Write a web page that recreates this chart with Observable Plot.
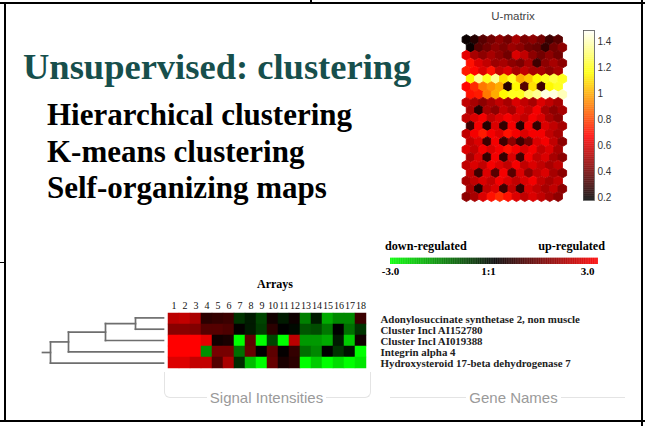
<!DOCTYPE html>
<html><head><meta charset="utf-8">
<script src="https://cdn.jsdelivr.net/npm/d3@7"></script>
<script src="https://cdn.jsdelivr.net/npm/@observablehq/plot@0.6"></script>
<style>
body{margin:0;background:#fff;}
#slide{position:relative;width:645px;height:426px;overflow:hidden;background:#fff;}
.abs{position:absolute;white-space:nowrap;line-height:1;}
.rule{position:absolute;background:#000;}
.faint{position:absolute;border-color:#e4e4e4;border-style:solid;border-width:0;}
svg{overflow:visible;}
</style></head><body>
<div id="slide"></div>
<script>
// ---------- data ----------
const slideTitle = "Unsupervised: clustering";
const bullets = ["Hierarchical clustering", "K-means clustering", "Self-organizing maps"];

const arrays = [1,2,3,4,5,6,7,8,9,10,11,12,13,14,15,16,17,18];
const genes = [
  "Adonylosuccinate synthetase 2, non muscle",
  "Cluster Incl AI152780",
  "Cluster Incl AI019388",
  "Integrin alpha 4",
  "Hydroxysteroid 17-beta dehydrogenase 7"
];
const expr0 = [2.2,2.3,2.0,0.5,0.6,0.7,-0.6,-0.3,-0.8,0.2,-0.3,0.15,-1.5,-0.3,-2.0,-1.6,-1.6,0.7];
const expr1 = [1.6,1.6,1.5,1.0,1.0,0.9,0.05,-0.3,-0.7,0.5,0.0,-0.1,-1.0,-0.9,-1.4,0.0,-1.3,-0.6];
const expr2 = [3.0,3.0,3.0,2.7,0.2,0.3,-3.0,1.1,-3.0,-0.8,-3.0,2.2,-1.8,-1.8,-2.0,-0.3,-2.4,0.2];
const expr3 = [3.0,3.0,3.0,-1.7,1.4,1.4,-1.3,1.2,0.0,1.1,0.05,0.6,-1.3,-1.6,0.0,-0.6,-0.2,-3.0];
const expr4 = [2.6,2.6,2.3,2.3,1.0,2.0,-0.5,-2.2,-3.0,1.2,0.3,0.5,-3.0,-2.4,-3.0,-2.6,-3.0,-2.7];
const expression = [expr0, expr1, expr2, expr3, expr4];

// dendrogram merges: [childA, childB, height]; leaves 0..4, merged nodes 5..8
const merges = [[0,1,2.8],[5,2,5.8],[6,3,9.5],[7,4,11.3]];
const rootHeight = 12.1;

const heatTicks = [-3, 0, 3];
const heatTickLabels = ["-3.0", "1:1", "3.0"];

// U-matrix (21 rows x 12 hexagons; odd rows shifted half a cell)
const umatrix = [
  [0.20,0.25,0.35,0.40,0.45,0.40,0.50,0.42,0.45,0.40,0.30,0.35],
  [0.20,0.35,0.40,0.45,0.42,0.48,0.45,0.40,0.38,0.28,0.40,0.45],
  [0.62,0.50,0.45,0.50,0.45,0.40,0.60,0.55,0.45,0.40,0.45,0.40],
  [0.70,0.60,0.55,0.48,0.50,0.45,0.42,0.50,0.30,0.45,0.50,0.45],
  [0.72,0.68,0.60,0.70,0.55,0.60,0.50,0.55,0.50,0.50,0.45,0.50],
  [1.15,1.35,1.20,1.35,1.10,1.20,1.00,1.05,1.15,1.20,1.25,1.20],
  [0.68,0.75,0.90,0.95,1.00,0.25,1.15,0.35,1.10,0.30,1.15,1.20],
  [0.70,0.72,0.90,1.00,1.15,1.20,1.20,1.30,1.35,1.45,1.45,1.40],
  [0.55,0.50,0.45,0.50,0.55,0.50,0.60,0.55,0.50,0.60,0.55,0.50],
  [0.50,0.25,0.50,0.45,0.55,0.50,0.60,0.55,0.65,0.50,0.45,0.50],
  [0.55,0.60,0.65,0.55,0.60,0.65,0.60,0.55,0.65,0.60,0.50,0.45],
  [0.30,0.65,0.25,0.60,0.28,0.65,0.25,0.65,0.28,0.60,0.55,0.50],
  [0.55,0.65,0.72,0.65,0.60,0.70,0.65,0.60,0.65,0.65,0.55,0.50],
  [0.55,0.60,0.30,0.65,0.30,0.45,0.30,0.40,0.60,0.65,0.55,0.45],
  [0.60,0.55,0.65,0.60,0.65,0.70,0.65,0.60,0.65,0.55,0.60,0.50],
  [0.50,0.60,0.28,0.65,0.28,0.60,0.30,0.65,0.55,0.60,0.50,0.45],
  [0.55,0.60,0.55,0.65,0.60,0.55,0.65,0.55,0.60,0.55,0.50,0.55],
  [0.55,0.30,0.60,0.35,0.65,0.35,0.60,0.45,0.55,0.60,0.50,0.45],
  [0.50,0.55,0.60,0.55,0.65,0.60,0.55,0.60,0.65,0.55,0.50,0.55],
  [0.50,0.25,0.55,0.60,0.30,0.55,0.28,0.60,0.55,0.50,0.55,0.45],
  [0.45,0.50,0.60,0.70,0.75,0.70,0.60,0.55,0.60,0.55,0.50,0.45]
];
const umatrixTicks = [0.2, 0.4, 0.6, 0.8, 1, 1.2, 1.4];
const umatrixDomain = [0.18, 1.49];

// ---------- helpers ----------
const slide = document.getElementById("slide");
const SERIF = '"Liberation Serif","Times New Roman",serif';
const SANS = '"Liberation Sans",Arial,sans-serif';
function rule(l, t, w, h) {
  const d = document.createElement("div"); d.className = "rule";
  Object.assign(d.style, {left: l + "px", top: t + "px", width: w + "px", height: h + "px"});
  slide.appendChild(d);
}
function label(text, x, baseline, size, o = {}) {
  const d = document.createElement("div"); d.className = "abs"; d.textContent = text;
  const asc = o.font === SANS ? 0.86 : 0.8375;
  Object.assign(d.style, {
    fontFamily: o.font || SERIF, fontSize: size + "px", fontWeight: o.weight || "bold",
    color: o.color || "#000", top: (baseline - asc * size) + "px",
    background: o.bg || "transparent", padding: o.pad || "0"
  });
  slide.appendChild(d);
  const w = d.getBoundingClientRect().width;
  if (o.anchor === "middle") d.style.left = (x - w / 2) + "px";
  else if (o.anchor === "end") d.style.left = (x - w) + "px";
  else d.style.left = x + "px";
  return d;
}
function place(svg, l, t) {
  const w = document.createElement("div"); w.className = "abs";
  w.style.left = l + "px"; w.style.top = t + "px";
  w.appendChild(svg); slide.appendChild(w);
}

// ---------- frame ----------
rule(0, 2, 645, 2);
rule(4, 2, 2, 419);
rule(0, 419.5, 645, 2.5);
rule(641, 0, 2, 426);
rule(0, 261.5, 5, 1.5);
rule(310, 0, 1.5, 3);

// ---------- slide text ----------
label(slideTitle, 23, 79.5, 36.5, {color: "#174f4c"});
label(bullets[0], 47, 125, 31);
label(bullets[1], 47, 162, 31);
label(bullets[2], 47, 198, 31);

// ---------- U-matrix ----------
const hot = {type: "linear", domain: [0.18, 0.67, 1.16, 1.49], range: ["#000000", "#ff0000", "#ffff00", "#ffffff"]};
const hexes = [];
umatrix.forEach((row, r) => row.forEach((v, c) => hexes.push({col: c + (r % 2 ? 0.5 : 0), row: r, value: v})));
place(Plot.plot({
  width: 120, height: 185, marginLeft: 10.9, marginRight: 13.2, marginTop: 14.1, marginBottom: 13.9,
  x: {domain: [0, 11.5], axis: null},
  y: {domain: [0, 20], reverse: true, axis: null},
  color: hot,
  marks: [Plot.dot(hexes, {x: "col", y: "row", symbol: "hexagon", r: 4.3, fill: "value", stroke: "value", strokeWidth: 0.9})]
}), 455, 25);
label("U-matrix", 513, 21, 11.5, {font: SANS, weight: "normal", color: "#444", anchor: "middle"});

const ramp = d3.range(umatrixDomain[0], umatrixDomain[1], 0.005);
place(Plot.plot({
  width: 65, height: 190, marginLeft: 8, marginRight: 46, marginTop: 10, marginBottom: 10,
  x: {domain: [0, 1], axis: null},
  y: {domain: umatrixDomain, axis: null},
  color: hot,
  marks: [
    Plot.rect(ramp, {x1: 0, x2: 1, y1: d => d, y2: d => Math.min(d + 0.006, umatrixDomain[1]), fill: d => d}),
    Plot.frame({stroke: "#555", strokeWidth: 0.8}),
    Plot.axisY(umatrixTicks, {anchor: "right", tickSize: 0, tickPadding: 3, tickFormat: d => String(d),
      fontSize: 10, fontFamily: SANS, fill: "#333", label: null})
  ]
}), 575, 20);

// ---------- regulation legend ----------
const heatColor = {type: "linear", domain: [-3, 0, 3], range: ["#00ff00", "#000000", "#ff0000"]};
const regRamp = d3.range(-3, 3, 0.02);
const tickRows = heatTicks.map((v, i) => ({v, t: heatTickLabels[i]}));
place(Plot.plot({
  width: 250, height: 45, marginLeft: 15, marginRight: 27, marginTop: 22.7, marginBottom: 16,
  x: {domain: [-3, 3], axis: null},
  color: heatColor,
  marks: [
    Plot.rect(regRamp, {x1: d => d, x2: d => Math.min(d + 0.025, 3), fill: d => d}),
    Plot.text(tickRows.slice(0, 1), {x: "v", text: "t", frameAnchor: "bottom", lineAnchor: "top", dy: 3, fontFamily: SERIF, fontWeight: "bold", fontSize: 11}),
    Plot.text(tickRows.slice(1, 2), {x: "v", text: "t", frameAnchor: "bottom", lineAnchor: "top", dy: 3, dx: -6, fontFamily: SERIF, fontWeight: "bold", fontSize: 11}),
    Plot.text(tickRows.slice(2), {x: "v", text: "t", frameAnchor: "bottom", lineAnchor: "top", dy: 3, dx: -4, textAnchor: "end", fontFamily: SERIF, fontWeight: "bold", fontSize: 11})
  ]
}), 375, 235);
label("down-regulated", 385, 250.5, 12.2);
label("up-regulated", 605, 250.5, 12.2, {anchor: "end"});

// ---------- heatmap ----------
const cells = [];
genes.forEach((g, i) => arrays.forEach((a, j) => cells.push({gene: g, array: a, value: expression[i][j]})));
place(Plot.plot({
  width: 490, height: 100, marginLeft: 23.3, marginRight: 260, marginTop: 36.7, marginBottom: 6.7,
  x: {type: "band", domain: arrays, padding: 0, axis: null},
  y: {type: "band", domain: genes, padding: 0, axis: null},
  color: heatColor,
  marks: [
    Plot.cell(cells, {x: "array", y: "gene", fill: "value", stroke: "value", strokeWidth: 0.5}),
    Plot.axisX({anchor: "top", tickSize: 0, tickPadding: 3, fontSize: 10, fontFamily: SERIF, fill: "#111", label: null}),
    Plot.axisY({anchor: "right", tickSize: 0, tickPadding: 10, fontSize: 10.9, fontFamily: SERIF, fontWeight: "bold", fill: "#222", label: null})
  ]
}), 140, 275);
label("Arrays", 275, 288.5, 12, {anchor: "middle"});

// ---------- dendrogram ----------
const nodes = [0, 1, 2, 3, 4].map(i => ({y: i, h: 0}));
const segs = [];
merges.forEach(([a, b, h]) => {
  const A = nodes[a], B = nodes[b];
  segs.push({x1: A.h, y1: A.y, x2: h, y2: A.y});
  segs.push({x1: B.h, y1: B.y, x2: h, y2: B.y});
  segs.push({x1: h, y1: A.y, x2: h, y2: B.y});
  nodes.push({y: (A.y + B.y) / 2, h});
});
const root = nodes[nodes.length - 1];
segs.push({x1: root.h, y1: root.y, x2: rootHeight, y2: root.y});
place(Plot.plot({
  width: 140, height: 75, marginLeft: 12, marginRight: 7, marginTop: 17.4, marginBottom: 12.4,
  x: {domain: [rootHeight, 0], axis: null},
  y: {domain: [0, 4], reverse: true, axis: null},
  marks: [Plot.link(segs, {x1: "x1", y1: "y1", x2: "x2", y2: "y2", stroke: "#6e6e6e", strokeWidth: 1.7, strokeLinecap: "square"})]
}), 30, 300);

// ---------- panel captions ----------
function faint(l, t, w, h, sides, radius) {
  const d = document.createElement("div"); d.className = "faint";
  Object.assign(d.style, {left: l + "px", top: t + "px", width: w + "px", height: h + "px"});
  sides.forEach(s => d.style["border" + s + "Width"] = "1px");
  if (radius) d.style.borderRadius = radius;
  slide.appendChild(d);
}
faint(164, 372, 205, 25, ["Left", "Right", "Bottom"], "0 0 6px 6px");
faint(390, 397, 235, 1, ["Top"]);
label("Signal Intensities", 266.5, 402.5, 15, {font: SANS, weight: "normal", color: "#9a9a9a", anchor: "middle", bg: "#fff", pad: "0 3px"});
label("Gene Names", 513.5, 402.5, 15, {font: SANS, weight: "normal", color: "#9a9a9a", anchor: "middle", bg: "#fff", pad: "0 3px"});
</script>
</body></html>
